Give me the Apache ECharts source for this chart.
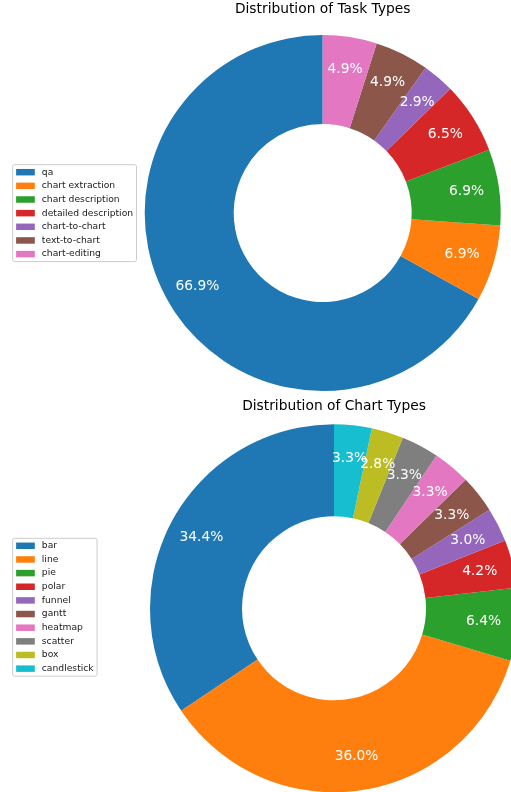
<!DOCTYPE html>
<html>
<head>
<meta charset="utf-8">
<script src="https://cdn.jsdelivr.net/npm/echarts@6/dist/echarts.min.js"></script>
<style>
html, body { margin: 0; padding: 0; background: #fff; }
#main { width: 511px; height: 792px; }
</style>
</head>
<body>
<div id="main"></div>
<script>
var taskNames = ['qa', 'chart extraction', 'chart description', 'detailed description', 'chart-to-chart', 'text-to-chart', 'chart-editing'];
var taskValues = [66.9, 6.9, 6.9, 6.5, 2.9, 4.9, 4.9];

var chartNames = ['bar', 'line', 'pie', 'polar', 'funnel', 'gantt', 'heatmap', 'scatter', 'box', 'candlestick'];
var chartValues = [34.4, 36.0, 6.4, 4.2, 3.0, 3.3, 3.3, 3.3, 2.8, 3.3];

var colors = ['#1f77b4', '#ff7f0e', '#2ca02c', '#d62728', '#9467bd', '#8c564b', '#e377c2', '#7f7f7f', '#bcbd22', '#17becf'];

var font = 'DejaVu Sans';

function toData(names, values, transparent) {
    return names.map(function(n, i) {
        return {
            name: n,
            value: values[i],
            itemStyle: { color: transparent ? 'rgba(0,0,0,0)' : colors[i] }
        };
    });
}

// donut itself, no labels
function ring(names, values, center, r) {
    return {
        type: 'pie',
        center: center,
        radius: [r * 0.5, r],
        startAngle: 90,
        clockwise: false,
        silent: true,
        label: { show: false },
        labelLine: { show: false },
        emphasis: { disabled: true },
        data: toData(names, values, false)
    };
}

// labels at 0.8 of the radius, like pctdistance
function pctLabels(names, values, center, r) {
    return {
        type: 'pie',
        center: center,
        radius: [r * 0.6, r],
        startAngle: 90,
        clockwise: false,
        silent: true,
        avoidLabelOverlap: false,
        labelLayout: { hideOverlap: false },
        label: {
            show: true,
            position: 'inside',
            color: '#fff',
            fontFamily: font,
            fontSize: 13.8,
            formatter: function(p) { return p.value.toFixed(1) + '%'; }
        },
        labelLine: { show: false },
        emphasis: { disabled: true },
        data: toData(names, values, true)
    };
}

function legendBox(names, top) {
    return {
        orient: 'vertical',
        left: 12.7,
        top: top,
        data: names,
        icon: 'rect',
        itemWidth: 18.7,
        itemHeight: 6.5,
        itemGap: 3.65,
        selectedMode: false,
        padding: [2.5, 3.4, 2.5, 3.4],
        backgroundColor: '#fff',
        borderColor: '#cccccc',
        borderWidth: 1,
        borderRadius: 2,
        textStyle: {
            fontFamily: font,
            fontSize: 9.2,
            lineHeight: 10,
            color: '#1a1a1a',
            padding: [0, 0, 0, 2]
        }
    };
}

var myChart = echarts.init(document.getElementById('main'));

var option = {
    backgroundColor: '#fff',
    animation: false,
    graphic: [{
        type: 'text',
        x: 322.7,
        y: 9.2,
        style: { text: 'Distribution of Task Types', font: '13.8px "DejaVu Sans"', fill: '#000', textAlign: 'center', textVerticalAlign: 'middle' }
    }, {
        type: 'text',
        x: 334,
        y: 406.6,
        style: { text: 'Distribution of Chart Types', font: '13.8px "DejaVu Sans"', fill: '#000', textAlign: 'center', textVerticalAlign: 'middle' }
    }],
    legend: [
        legendBox(taskNames, 164.7),
        legendBox(chartNames, 538.3)
    ],
    series: [
        ring(taskNames, taskValues, [322.7, 213], 178),
        ring(chartNames, chartValues, [334, 608.3], 184),
        pctLabels(taskNames, taskValues, [322.7, 213], 178),
        pctLabels(chartNames, chartValues, [334, 608.3], 184)
    ]
};

myChart.setOption(option);

window.onresize = function() {
    myChart.resize();
};
</script>
</body>
</html>
